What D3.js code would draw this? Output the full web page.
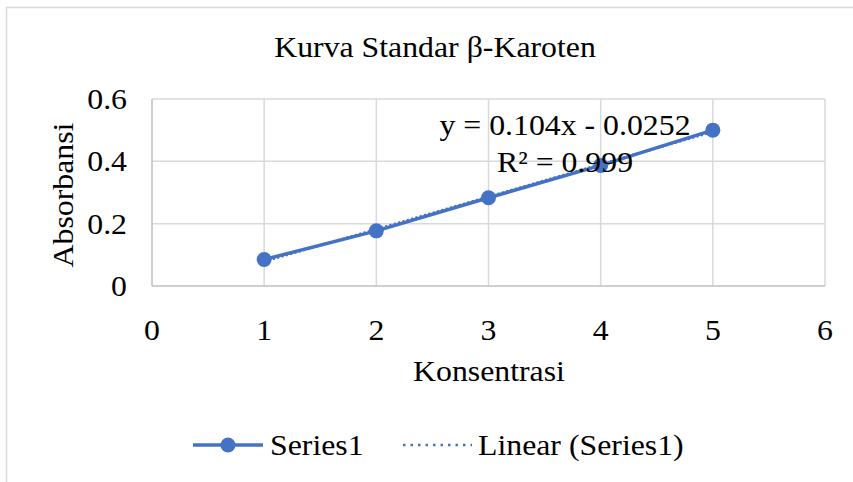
<!DOCTYPE html>
<html>
<head>
<meta charset="utf-8">
<script src="https://cdn.jsdelivr.net/npm/d3@7"></script>
<style>
  html, body { margin: 0; padding: 0; background: #fff; }
  #chart { width: 853px; height: 482px; }
  text { font-family: "Liberation Serif", "Times New Roman", serif; fill: #000; }
</style>
</head>
<body>
<div id="chart"></div>
<script>
// data
const konsentrasi = [1, 2, 3, 4, 5];
const absorbansi = [0.085, 0.177, 0.283, 0.387, 0.5];
const xTicks = [0, 1, 2, 3, 4, 5, 6];
const yTicks = [0, 0.2, 0.4, 0.6];
const title = "Kurva Standar β-Karoten";
const eqLine1 = "y = 0.104x - 0.0252";
const eqLine2 = "R² = 0.999";

const W = 853, H = 482;
const blue = "#4472C4";
const fs = 30;
const sx = 1.06; // text in the picture is a bit wider than plain Times

const svg = d3.select("#chart").append("svg")
  .attr("width", W)
  .attr("height", H);

// text helper: places text at (x,y) with a slight horizontal stretch
function label(g, tx, ty, str, anchor, rot) {
  return g.append("text")
    .attr("transform", `translate(${tx},${ty})` + (rot ? ` rotate(${rot})` : "") + ` scale(${sx},1)`)
    .attr("text-anchor", anchor || "start")
    .attr("font-size", fs)
    .text(str);
}

// chart frame (runs off right/bottom edges)
svg.append("rect")
  .attr("x", 6.5).attr("y", 7.5)
  .attr("width", 900).attr("height", 500)
  .attr("fill", "#fff")
  .attr("stroke", "#d9d9d9")
  .attr("stroke-width", 1.5);

const x = d3.scaleLinear().domain([0, 6]).range([152, 825]);
const y = d3.scaleLinear().domain([0, 0.6]).range([286, 99]);

// gridlines
svg.append("g").selectAll("line")
  .data(yTicks.filter(d => d > 0))
  .join("line")
  .attr("x1", x(0)).attr("x2", x(6))
  .attr("y1", d => y(d)).attr("y2", d => y(d))
  .attr("stroke", "#d9d9d9").attr("stroke-width", 1.5);

svg.append("g").selectAll("line")
  .data(xTicks.filter(d => d > 0))
  .join("line")
  .attr("x1", d => x(d)).attr("x2", d => x(d))
  .attr("y1", y(0)).attr("y2", y(0.6))
  .attr("stroke", "#d9d9d9").attr("stroke-width", 1.5);

// axis lines
svg.append("line")
  .attr("x1", x(0)).attr("x2", x(0))
  .attr("y1", y(0)).attr("y2", y(0.6))
  .attr("stroke", "#bfbfbf").attr("stroke-width", 1.5);
svg.append("line")
  .attr("x1", x(0)).attr("x2", x(6))
  .attr("y1", y(0)).attr("y2", y(0))
  .attr("stroke", "#bfbfbf").attr("stroke-width", 1.5);

// tick labels
const yt = svg.append("g");
yTicks.forEach(d => label(yt, 127, y(d) + 10, String(d), "end"));
const xt = svg.append("g");
xTicks.forEach(d => label(xt, x(d), 340, String(d), "middle"));

// titles
label(svg, 435, 57, title, "middle");
label(svg, 489, 381, "Konsentrasi", "middle");
label(svg, 73, 195, "Absorbansi", "middle", -90);

// linear trendline (least squares on the data)
const mx = d3.mean(konsentrasi), my = d3.mean(absorbansi);
const slope = d3.sum(konsentrasi, (v, i) => (v - mx) * (absorbansi[i] - my)) /
  d3.sum(konsentrasi, v => (v - mx) ** 2);
const icpt = my - slope * mx;
const x0 = d3.min(konsentrasi), x1 = d3.max(konsentrasi);

const line = d3.line().x(d => x(d[0])).y(d => y(d[1]));
const pts = konsentrasi.map((k, i) => [k, absorbansi[i]]);

svg.append("path")
  .datum(pts)
  .attr("d", line)
  .attr("fill", "none")
  .attr("stroke", blue)
  .attr("stroke-width", 3.5)
  .attr("stroke-linejoin", "round");

svg.append("path")
  .datum([[x0, slope * x0 + icpt], [x1, slope * x1 + icpt]])
  .attr("d", line)
  .attr("fill", "none")
  .attr("stroke", blue)
  .attr("stroke-width", 2.5)
  .attr("stroke-dasharray", "2,2.5");

svg.append("g").selectAll("circle")
  .data(pts)
  .join("circle")
  .attr("cx", d => x(d[0]))
  .attr("cy", d => y(d[1]))
  .attr("r", 7.5)
  .attr("fill", blue);

// equation label
label(svg, 565, 135, eqLine1, "middle");
label(svg, 565, 172, eqLine2, "middle");

// legend
const lg = svg.append("g");
lg.append("line")
  .attr("x1", 193).attr("x2", 263).attr("y1", 445).attr("y2", 445)
  .attr("stroke", blue).attr("stroke-width", 3.5);
lg.append("circle")
  .attr("cx", 228).attr("cy", 445).attr("r", 7.5).attr("fill", blue);
label(lg, 270, 455, "Series1");
lg.append("line")
  .attr("x1", 403).attr("x2", 472).attr("y1", 445).attr("y2", 445)
  .attr("stroke", blue).attr("stroke-width", 2.5)
  .attr("stroke-dasharray", "2.5,5");
label(lg, 478, 455, "Linear (Series1)");
</script>
</body>
</html>
